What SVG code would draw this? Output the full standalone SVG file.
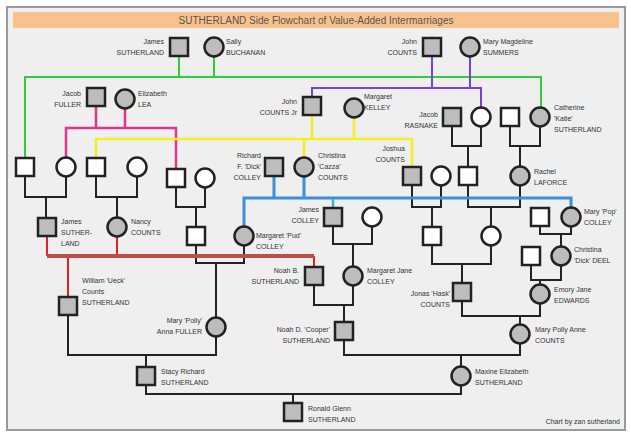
<svg xmlns="http://www.w3.org/2000/svg" width="631" height="436" viewBox="0 0 631 436">
<style>
.sq{fill:#bdbdbd;stroke:#222;stroke-width:2.5}
.sw{fill:#fff;stroke:#222;stroke-width:2.5}
.t{font-family:"Liberation Sans",Arial,sans-serif;font-size:7px;fill:#333}
.e{text-anchor:end}
.k{fill:none;stroke:#222;stroke-width:2}
.green{fill:none;stroke:#33cc33;stroke-width:2}
.purple{fill:none;stroke:#7a3fd8;stroke-width:2}
.pink{fill:none;stroke:#e0358c;stroke-width:2.5}
.yellow{fill:none;stroke:#f2f022;stroke-width:2.5}
.blue{fill:none;stroke:#3a90dc;stroke-width:3}
.teal{fill:none;stroke:#3fb4c4;stroke-width:2.5}
.red{fill:none;stroke:#e02424;stroke-width:2}
.redh{fill:none;stroke:#c04c4c;stroke-width:4}
</style>
<rect x="0" y="0" width="631" height="436" fill="#fff"/>
<rect x="7" y="7" width="618" height="423" fill="#efefef" stroke="#9a9a9a" stroke-width="2"/>
<rect x="13" y="12" width="606" height="16" fill="#f9c28c"/>
<text x="316" y="24" text-anchor="middle" style="font-family:'Liberation Sans',Arial,sans-serif;font-size:10px;fill:#555">SUTHERLAND Side Flowchart of Value-Added Intermarriages</text>

<g id="connectors">
<!-- black family brackets -->
<path class="k" d="M25,176V197H66V176M46,197V218"/>
<path class="k" d="M96,176V197H137V176M117,197V218"/>
<path class="k" d="M176,187V207H205V187M196,207V227"/>
<path class="k" d="M196,245V263H244V245M216,263V318"/>
<path class="k" d="M452,126V146H481V126M468,146V167"/>
<path class="k" d="M510,126V146H540V126M520,146V167"/>
<path class="k" d="M412,185V207H441V185M432,207V227"/>
<path class="k" d="M468,185V207H520V185M491,207V227"/>
<path class="k" d="M432,245V264H491V245M462,264V283"/>
<path class="k" d="M333,226V244H372V226M353,244V267"/>
<path class="k" d="M540,226V234H571V226M561,234V247"/>
<path class="k" d="M531,265V280H561V265M540,280V285"/>
<path class="k" d="M462,301V316H540V303M520,316V325"/>
<path class="k" d="M314,285V305H353V285M344,305V322"/>
<path class="k" d="M68,315V355H216V336M146,355V367"/>
<path class="k" d="M344,340V355H520V343M461,355V367"/>
<path class="k" d="M146,385V394H461V385M293,394V403"/>
<!-- coloured marriage lines -->
<path class="green" d="M179,56V77M214,56V77M25,158V77H541V108"/>
<path class="purple" d="M432,56V88M470,56V88M312,97V88H481V108"/>
<path class="pink" d="M96,106V128M125,108V128M66,158V128H176V169"/>
<path class="yellow" d="M312,115V139M354,117V139M96,158V139H412V167M304,139V158"/>
<path class="blue" d="M274,176V198M304,176V198M244,227V198H571V208"/>
<path class="teal" d="M333,199V208"/>
<path class="red" d="M47,236V256M117,237V256M68,256V297M314,256V267"/>
<path class="redh" d="M47,256H314"/>
</g>

<g id="james-sutherland-1"><rect class="sq" x="170" y="38" width="18" height="18"/><text class="t e" x="164" y="44">James</text><text class="t e" x="164" y="55">SUTHERLAND</text></g>
<g id="sally-buchanan"><circle class="sq" cx="214" cy="47" r="9.5"/><text class="t" x="226" y="44">Sally</text><text class="t" x="226" y="55">BUCHANAN</text></g>
<g id="john-counts"><rect class="sq" x="423" y="38" width="18" height="18"/><text class="t e" x="417" y="44">John</text><text class="t e" x="417" y="55">COUNTS</text></g>
<g id="mary-summers"><circle class="sq" cx="470" cy="47" r="9.5"/><text class="t" x="483" y="44">Mary Magdeline</text><text class="t" x="483" y="55">SUMMERS</text></g>

<g id="jacob-fuller"><rect class="sq" x="87" y="88" width="18" height="18"/><text class="t e" x="81" y="96">Jacob</text><text class="t e" x="81" y="107">FULLER</text></g>
<g id="elizabeth-lea"><circle class="sq" cx="125" cy="99" r="9.5"/><text class="t" x="138" y="96">Elizabeth</text><text class="t" x="138" y="107">LEA</text></g>
<g id="john-counts-jr"><rect class="sq" x="303" y="97" width="18" height="18"/><text class="t e" x="297" y="104">John</text><text class="t e" x="297" y="115">COUNTS Jr</text></g>
<g id="margaret-kelley"><circle class="sq" cx="354" cy="108" r="9.5"/><text class="t" x="364" y="99">Margaret</text><text class="t" x="364" y="110">KELLEY</text></g>

<g id="jacob-rasnake"><rect class="sq" x="443" y="108" width="18" height="18"/><text class="t e" x="438" y="117">Jacob</text><text class="t e" x="438" y="128">RASNAKE</text></g>
<g id="rasnake-wife"><circle class="sw" cx="481" cy="117" r="9.5"/></g>
<g id="katie-husband"><rect class="sw" x="501" y="108" width="18" height="18"/></g>
<g id="catherine-sutherland"><circle class="sq" cx="540" cy="117" r="9.5"/><text class="t" x="554" y="110">Catherine</text><text class="t" x="554" y="121">'Katie'</text><text class="t" x="554" y="132">SUTHERLAND</text></g>

<g id="sq-a"><rect class="sw" x="16" y="158" width="18" height="18"/></g>
<g id="ci-a"><circle class="sw" cx="66" cy="167" r="9.5"/></g>
<g id="sq-b"><rect class="sw" x="87" y="158" width="18" height="18"/></g>
<g id="ci-b"><circle class="sw" cx="137" cy="167" r="9.5"/></g>
<g id="sq-c"><rect class="sw" x="167" y="169" width="18" height="18"/></g>
<g id="ci-c"><circle class="sw" cx="205" cy="178" r="9.5"/></g>
<g id="richard-colley"><rect class="sq" x="265" y="158" width="18" height="18"/><text class="t e" x="261" y="158">Richard</text><text class="t e" x="261" y="169">F. 'Dick'</text><text class="t e" x="261" y="180">COLLEY</text></g>
<g id="christina-counts"><circle class="sq" cx="304" cy="167" r="9.5"/><text class="t" x="318" y="158">Christina</text><text class="t" x="318" y="169">'Cazza'</text><text class="t" x="318" y="180">COUNTS</text></g>
<g id="joshua-counts"><rect class="sq" x="403" y="167" width="18" height="18"/><text class="t e" x="405" y="151">Joshua</text><text class="t e" x="405" y="162">COUNTS</text></g>
<g id="ci-d"><circle class="sw" cx="441" cy="176" r="9.5"/></g>
<g id="sq-d"><rect class="sw" x="459" y="167" width="18" height="18"/></g>
<g id="rachel-laforce"><circle class="sq" cx="520" cy="176" r="9.5"/><text class="t" x="534" y="174">Rachel</text><text class="t" x="534" y="185">LAFORCE</text></g>

<g id="james-colley"><rect class="sq" x="324" y="208" width="18" height="18"/><text class="t e" x="319" y="212">James</text><text class="t e" x="319" y="223">COLLEY</text></g>
<g id="ci-e"><circle class="sw" cx="372" cy="217" r="9.5"/></g>
<g id="sq-e"><rect class="sw" x="531" y="208" width="18" height="18"/></g>
<g id="mary-pop-colley"><circle class="sq" cx="571" cy="217" r="9.5"/><text class="t" x="584" y="214">Mary 'Pop'</text><text class="t" x="584" y="225">COLLEY</text></g>

<g id="james-sutherland-2"><rect class="sq" x="38" y="218" width="18" height="18"/><text class="t" x="61" y="224">James</text><text class="t" x="61" y="235">SUTHER-</text><text class="t" x="61" y="246">LAND</text></g>
<g id="nancy-counts"><circle class="sq" cx="117" cy="227" r="9.5"/><text class="t" x="131" y="224">Nancy</text><text class="t" x="131" y="235">COUNTS</text></g>
<g id="sq-f"><rect class="sw" x="187" y="227" width="18" height="18"/></g>
<g id="margaret-pud-colley"><circle class="sq" cx="244" cy="236" r="9.5"/><text class="t" x="256" y="238">Margaret 'Pud'</text><text class="t" x="256" y="249">COLLEY</text></g>
<g id="sq-g"><rect class="sw" x="423" y="227" width="18" height="18"/></g>
<g id="ci-g"><circle class="sw" cx="491" cy="236" r="9.5"/></g>

<g id="sq-h"><rect class="sw" x="522" y="247" width="18" height="18"/></g>
<g id="christina-deel"><circle class="sq" cx="561" cy="256" r="9.5"/><text class="t" x="574" y="252">Christina</text><text class="t" x="574" y="263">'Dick' DEEL</text></g>

<g id="noah-b-sutherland"><rect class="sq" x="305" y="267" width="18" height="18"/><text class="t e" x="299" y="273">Noah B.</text><text class="t e" x="299" y="284">SUTHERLAND</text></g>
<g id="margaret-jane-colley"><circle class="sq" cx="353" cy="276" r="9.5"/><text class="t" x="367" y="273">Margaret Jane</text><text class="t" x="367" y="284">COLLEY</text></g>
<g id="jonas-counts"><rect class="sq" x="453" y="283" width="18" height="18"/><text class="t e" x="450" y="296">Jonas 'Hask'</text><text class="t e" x="450" y="307">COUNTS</text></g>
<g id="emory-edwards"><circle class="sq" cx="540" cy="294" r="9.5"/><text class="t" x="554" y="292">Emory Jane</text><text class="t" x="554" y="303">EDWARDS</text></g>

<g id="william-sutherland"><rect class="sq" x="59" y="297" width="18" height="18"/><text class="t" x="82" y="283">William 'Ueck'</text><text class="t" x="82" y="294">Counts</text><text class="t" x="82" y="305">SUTHERLAND</text></g>
<g id="mary-polly-fuller"><circle class="sq" cx="216" cy="327" r="9.5"/><text class="t e" x="202" y="323">Mary 'Polly'</text><text class="t e" x="202" y="334">Anna FULLER</text></g>
<g id="noah-d-sutherland"><rect class="sq" x="335" y="322" width="18" height="18"/><text class="t e" x="330" y="332">Noah D. 'Cooper'</text><text class="t e" x="330" y="343">SUTHERLAND</text></g>
<g id="mary-polly-anne-counts"><circle class="sq" cx="520" cy="334" r="9.5"/><text class="t" x="535" y="332">Mary Polly Anne</text><text class="t" x="535" y="343">COUNTS</text></g>

<g id="stacy-sutherland"><rect class="sq" x="137" y="367" width="18" height="18"/><text class="t" x="161" y="374">Stacy Richard</text><text class="t" x="161" y="385">SUTHERLAND</text></g>
<g id="maxine-sutherland"><circle class="sq" cx="461" cy="376" r="9.5"/><text class="t" x="475" y="374">Maxine Elizabeth</text><text class="t" x="475" y="385">SUTHERLAND</text></g>
<g id="ronald-sutherland"><rect class="sq" x="284" y="403" width="18" height="18"/><text class="t" x="308" y="411">Ronald Glenn</text><text class="t" x="308" y="422">SUTHERLAND</text></g>

<text class="t e" x="620" y="424">Chart by zan sutherland</text>
</svg>
